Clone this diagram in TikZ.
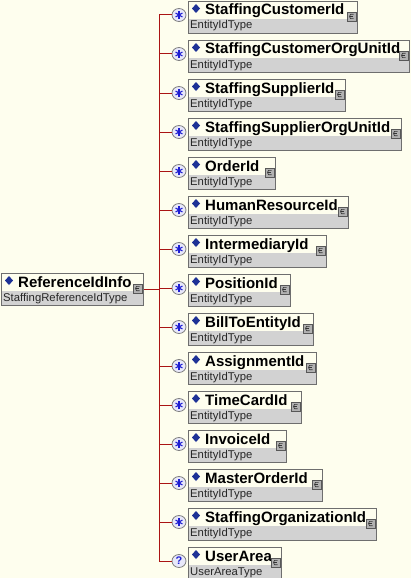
\documentclass[tikz,border=0pt]{standalone}
\usepackage{fontspec}
\setmainfont{Liberation Sans}
\definecolor{bg}{RGB}{254,254,238}
\definecolor{band}{RGB}{210,210,210}
\definecolor{edge}{RGB}{110,110,110}
\definecolor{wire}{RGB}{170,20,20}
\definecolor{dia}{RGB}{30,50,150}
\definecolor{occfill}{RGB}{232,232,250}
\definecolor{occblue}{RGB}{30,30,210}
\tikzset{
  elframe/.style={draw=edge, line width=1pt, rectangle, minimum height=32pt, inner sep=0pt},
  titletext/.style={anchor=base west, inner sep=0pt, font=\fontsize{15}{16}\selectfont\bfseries},
  typetext/.style={anchor=base west, inner sep=0pt, text=black!85, font=\fontsize{11.3}{12}\selectfont},
  cicon/.style={draw=edge!80!black, fill=band!85!black, line width=0.6pt, minimum size=9pt, inner sep=0pt},
  occ/.style={draw=gray, fill=occfill, line width=0.8pt, ellipse, minimum width=14pt, minimum height=13pt, inner sep=0pt},
  wireline/.style={draw=wire, line width=1pt},
  spoke/.style={draw=occblue, line width=1.1pt}
}
\usetikzlibrary{shapes.geometric}
\newcommand\elbox[6]{%
  \fill[bg] (#2,#3) rectangle ++(#4,18);
  \fill[band] (#2,#3+18) rectangle ++(#4,14);
  \node[elframe, minimum width=#4pt, anchor=north west] (#1) at (#2,#3) {};
  \fill[dia] (#2+8,#3+3) -- (#2+12,#3+7.5) -- (#2+8,#3+12) -- (#2+4,#3+7.5) -- cycle;
  \node[titletext] at (#2+17,#3+14) {#5};
  \node[typetext] at (#2+2,#3+28) {#6};
  \node[cicon] (#1i) at (#2+#4-5.5,#3+15.5) {};
  \draw[black!80, line width=0.6pt] ([shift={(2,-2.2)}]#1i.center) -- ([shift={(-1,-2.2)}]#1i.center) -- ([shift={(-2,0)}]#1i.center) -- ([shift={(-1,2.2)}]#1i.center) -- ([shift={(2,2.2)}]#1i.center);
  \draw[black!80, line width=0.6pt] ([shift={(-1.5,0)}]#1i.center) -- ([shift={(1,0)}]#1i.center);
}
\begin{document}
\begin{tikzpicture}[x=1pt,y=-1pt]
\fill[bg] (0,0) rectangle (411,578);
\useasboundingbox (0,0) rectangle (411,578);
% root element
\elbox{root}{1}{273}{142}{ReferenceIdInfo}{StaffingReferenceIdType}
% bus
\coordinate (bt) at (159,15);
\coordinate (bb) at (159,562);
\draw[wireline] (root.east) -- (root.east -| bt);
\draw[wireline] (bt) -- (bb);
% children
\foreach [count=\i] \nm/\w in {StaffingCustomerId/169, StaffingCustomerOrgUnitId/221, StaffingSupplierId/157, StaffingSupplierOrgUnitId/213, OrderId/87, HumanResourceId/160, IntermediaryId/138, PositionId/102, BillToEntityId/125, AssignmentId/128, TimeCardId/113, InvoiceId/98, MasterOrderId/134, StaffingOrganizationId/188} {
  \pgfmathsetmacro\tp{1+(\i-1)*39}
  \elbox{b\i}{188}{\tp}{\w}{\nm}{EntityIdType}
  \node[occ] (c\i) at (179,\tp+14) {};
  \draw[wireline] (c\i.west -| bt) -- (c\i.west);
  \foreach \a in {90,30,-30}
    \draw[spoke] ([shift={(\a:4)}]c\i.center) -- ([shift={(\a+180:4)}]c\i.center);
}
\elbox{b15}{188}{547}{93}{UserArea}{UserAreaType}
\node[occ, text=occblue, font=\fontsize{11}{11}\selectfont\bfseries] (c15) at (179,561) {?};
\draw[wireline] (c15.west -| bt) -- (c15.west);
\end{tikzpicture}
\end{document}
